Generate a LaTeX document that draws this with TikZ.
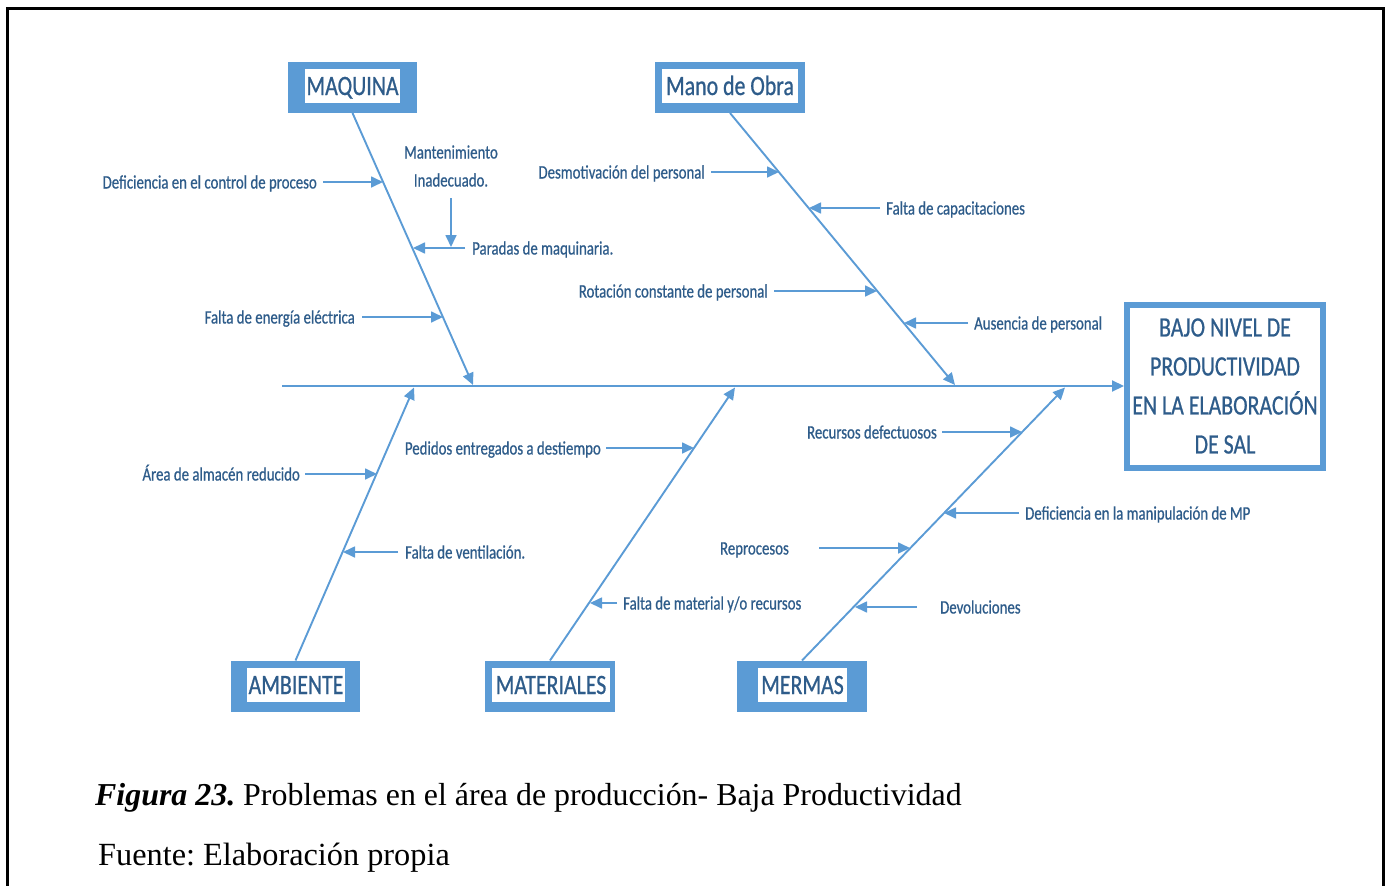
\documentclass[tikz,border=0pt]{standalone}
\usepackage{fontspec}
\setmainfont{Liberation Serif}
\newfontfamily\narrowsans[FakeStretch=0.78,FakeBold=0.7]{Carlito}
\usetikzlibrary{arrows.meta,calc}
\definecolor{lineblue}{RGB}{91,155,213}
\definecolor{ink}{RGB}{46,92,138}
\newcommand\fbLabel{\narrowsans\fontsize{19}{28}\selectfont}
\newcommand\fbCat{\narrowsans\fontsize{28}{30}\selectfont}
\newcommand\fbHead{\narrowsans\fontsize{28}{39}\selectfont}
\frenchspacing
\begin{document}
\begin{tikzpicture}[x=1pt,y=-1pt,
  lbl/.style={font=\fbLabel, text=ink, inner sep=0pt, text height=14pt, text depth=1pt},
  catbox/.style={fill=lineblue, minimum height=51pt, inner sep=0pt, outer sep=0pt},
  catin/.style={fill=white, font=\fbCat, text=ink, minimum height=34pt, inner sep=0pt,
                text height=18pt, text depth=0pt},
  tip/.style={-{Triangle[length=12pt,width=11pt]}},
  sub/.style={draw=lineblue, line width=1.7pt, tip},
  bone/.style={draw=lineblue, line width=1.9pt, tip},
  spine/.style={draw=lineblue, line width=2.1pt, tip},
  frame/.style={draw=black, line width=3pt}
]
\useasboundingbox (0,0) rectangle (1392,886);

% outer page frame (open at the bottom)
\draw[frame] (7,886) -- (7,8.5) -- (1383.5,8.5) -- (1383.5,886);

% effect box
\node[draw=lineblue, line width=6pt, minimum width=196pt, minimum height=163pt,
      inner sep=0pt, font=\fbHead, text=ink, align=center] (eff) at (1225,386)
  {BAJO NIVEL DE\\PRODUCTIVIDAD\\EN LA ELABORACIÓN\\DE SAL};

% spine
\coordinate (tail) at (282,386);
\draw[spine] (tail) -- (eff.west);

% category boxes
\node[catbox, minimum width=129pt] (maq) at (352.5,87.5) {};
\node[catin, minimum width=95pt] (maqt) at (352.5,86) {MAQUINA};
\node[catbox, minimum width=150pt] (mob) at (730,87.5) {};
\node[catin, minimum width=136pt] (mobt) at (730,86) {Mano de Obra};
\node[catbox, minimum width=129pt] (amb) at (295.5,686) {};
\node[catin, minimum width=98pt] (ambt) at (296,685) {AMBIENTE};
\node[catbox, minimum width=130pt] (mat) at (550,686) {};
\node[catin, minimum width=118pt] (matt) at (551,685) {MATERIALES};
\node[catbox, minimum width=130pt] (mer) at (802,686) {};
\node[catin, minimum width=89pt] (mert) at (802.5,685) {MERMAS};

% junctions on the spine
\coordinate (jmaq) at (473,385);
\coordinate (jmob) at (955,385);
\coordinate (jamb) at (414,387.5);
\coordinate (jmat) at (735,387.5);
\coordinate (jmer) at (1065,387.5);

% bones
\draw[bone] (maq.south) -- (jmaq);
\draw[bone] (mob.south) -- (jmob);
\draw[bone] (amb.north) -- (jamb);
\draw[bone] (mat.north) -- (jmat);
\draw[bone] (mer.north) -- (jmer);

% --- MAQUINA causes
\coordinate (q1) at (383,182);
\coordinate (q2) at (443,317);
\coordinate (q3) at (413,248);
\coordinate (q4) at (451,247);
\node[lbl, anchor=east] (lq1) at (317,182) {Deficiencia en el control de proceso};
\node[lbl, anchor=east] (lq2) at (355,317) {Falta de energía eléctrica};
\node[lbl, anchor=west] (lq3) at (472,248) {Paradas de maquinaria.};
\node[lbl] (lq4a) at (451,152) {Mantenimiento};
\node[lbl] (lq4b) at (451,180) {Inadecuado.};
\draw[sub] ($(lq1.east)+(6,0)$) -- (q1);
\draw[sub] ($(lq2.east)+(7,0)$) -- (q2);
\draw[sub] ($(lq3.west)+(-7,0)$) -- (q3);
\draw[sub] ($(lq4b.south)+(0,10.5)$) -- (q4);

% --- Mano de Obra causes
\coordinate (o1) at (779,172);
\coordinate (o2) at (809,208);
\coordinate (o3) at (877,291);
\coordinate (o4) at (904,323);
\node[lbl, anchor=east] (lo1) at (705,172) {Desmotivación del personal};
\node[lbl, anchor=west] (lo2) at (886,208) {Falta de capacitaciones};
\node[lbl, anchor=east] (lo3) at (768,291) {Rotación constante de personal};
\node[lbl, anchor=west] (lo4) at (974,323) {Ausencia de personal};
\draw[sub] ($(lo1.east)+(6,0)$) -- (o1);
\draw[sub] ($(lo2.west)+(-6,0)$) -- (o2);
\draw[sub] ($(lo3.east)+(6,0)$) -- (o3);
\draw[sub] ($(lo4.west)+(-6,0)$) -- (o4);

% --- AMBIENTE causes
\coordinate (a1) at (377,474);
\coordinate (a2) at (343,552);
\node[lbl, anchor=east] (la1) at (300,474) {Área de almacén reducido};
\node[lbl, anchor=west] (la2) at (405,552) {Falta de ventilación.};
\draw[sub] ($(la1.east)+(5,0)$) -- (a1);
\draw[sub] ($(la2.west)+(-7,0)$) -- (a2);

% --- MATERIALES causes
\coordinate (t1) at (694,448);
\coordinate (t2) at (590,603);
\node[lbl, anchor=east] (lt1) at (601,448) {Pedidos entregados a destiempo};
\node[lbl, anchor=west] (lt2) at (623,603) {Falta de material y/o recursos};
\draw[sub] ($(lt1.east)+(5,0)$) -- (t1);
\draw[sub] ($(lt2.west)+(-6,0)$) -- (t2);

% --- MERMAS causes
\coordinate (r1) at (1022,432);
\coordinate (r2) at (944,513);
\coordinate (r3) at (910,548);
\coordinate (r4) at (855,607);
\node[lbl, anchor=east] (lr1) at (937,432) {Recursos defectuosos};
\node[lbl, anchor=west] (lr2) at (1025,513) {Deficiencia en la manipulación de MP};
\node[lbl, anchor=east] (lr3) at (789,548) {Reprocesos};
\node[lbl, anchor=west] (lr4) at (940,607) {Devoluciones};
\draw[sub] ($(lr1.east)+(5,0)$) -- (r1);
\draw[sub] ($(lr2.west)+(-6,0)$) -- (r2);
\draw[sub] ($(lr3.east)+(30,0)$) -- (r3);
\draw[sub] ($(lr4.west)+(-23,0)$) -- (r4);

% caption
\node[anchor=base west, inner sep=0pt, font=\fontsize{31.9}{32}\selectfont] (cap) at (95,805)
  {\textbf{\textit{Figura 23.}} Problemas en el área de producción- Baja Productividad};
\node[anchor=base west, inner sep=0pt, font=\fontsize{32.3}{32}\selectfont] (src) at (98,865)
  {Fuente: Elaboración propia};
\end{tikzpicture}
\end{document}
